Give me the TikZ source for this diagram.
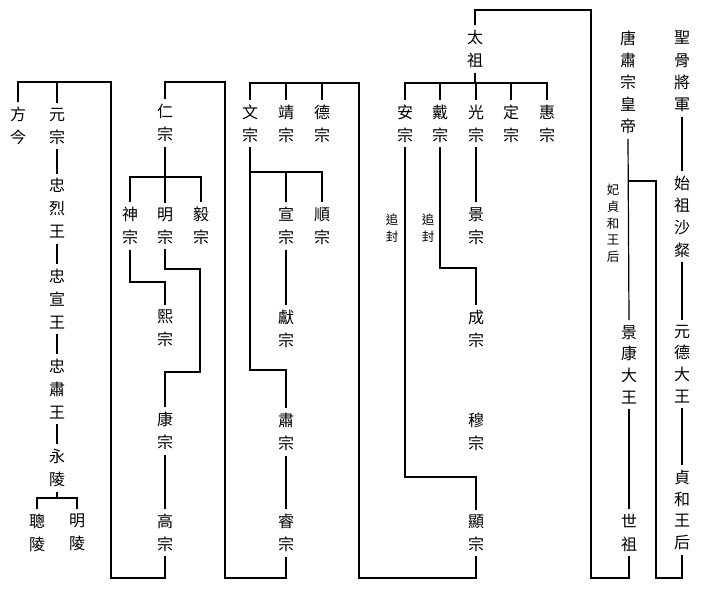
\documentclass[tikz,border=0pt]{standalone}
\usepackage{fontspec}
\newfontfamily\cjk{Noto Sans CJK TC}
\begin{document}
\begin{tikzpicture}[x=1pt,y=-1pt,
  vp/.style={font=\cjk\fontsize{16}{#1}\selectfont},
  v/.style={vp=23, align=center, inner xsep=0pt, inner ysep=5pt, outer sep=0pt, text=black},
  vs/.style={font=\cjk\fontsize{12.5}{17}\selectfont, align=center, inner sep=0pt, text=black},
  ln/.style={line width=1.2pt, black}]
\useasboundingbox[fill=white] (0,0) rectangle (706,600);

% left group
\node[v] (fj) at (18,126) {方\\今};
\node[v] (yz) at (57,126) {元\\宗};
\node[v] (zl) at (57,208.5) {忠\\烈\\王};
\node[v] (zx) at (57,299) {忠\\宣\\王};
\node[v] (zs) at (57,389) {忠\\肅\\王};
\node[v] (yl) at (57,468) {永\\陵};
\node[v] (cl) at (37,532.5) {聰\\陵};
\node[v] (ml) at (77,532.5) {明\\陵};

% 仁宗 group
\node[v] (rz) at (165,123) {仁\\宗};
\node[v] (sz) at (130,226) {神\\宗};
\node[v] (mz) at (165,226) {明\\宗};
\node[v] (yiz) at (201,226) {毅\\宗};
\node[v] (xz) at (165,328.5) {熙\\宗};
\node[v] (kz) at (165,431) {康\\宗};
\node[v] (gz) at (165,532.5) {高\\宗};

% 文宗 group
\node[v] (wz) at (250,123.5) {文\\宗};
\node[v] (jz) at (286,123.5) {靖\\宗};
\node[v] (dz) at (322,123.5) {德\\宗};
\node[v] (xuz) at (286,226) {宣\\宗};
\node[v] (sun) at (322,226) {順\\宗};
\node[v] (xian) at (286,328.5) {獻\\宗};
\node[v] (suz) at (286,432) {肅\\宗};
\node[v] (rui) at (286,533) {睿\\宗};

% 太祖 group
\node[v] (tz) at (475,49) {太\\祖};
\node[v] (az) at (405,123.5) {安\\宗};
\node[v] (daiz) at (440,123.5) {戴\\宗};
\node[v] (gzz) at (476,123.5) {光\\宗};
\node[v] (dingz) at (511,123.5) {定\\宗};
\node[v] (hz) at (547,123.5) {惠\\宗};
\node[v] (jingz) at (476,226) {景\\宗};
\node[v] (cz) at (476,328.5) {成\\宗};
\node[v] (muz) at (476,432) {穆\\宗};
\node[v] (xnz) at (476,533) {顯\\宗};
\node[vs] (zf1) at (392,228.5) {追\\封};
\node[vs] (zf2) at (428,228.5) {追\\封};

% right part
\node[v, vp=22] (tang) at (628,82.5) {唐\\肅\\宗\\皇\\帝};
\node[vs, font=\cjk\fontsize{12.5}{16.75}\selectfont] (bi) at (613,223.5) {妃\\貞\\和\\王\\后};
\node[v, vp=21.7] (jk) at (629,364.5) {景\\康\\大\\王};
\node[v] (sz2) at (629,532.5) {世\\祖};
\node[v, vp=22.3] (sg) at (682,71.5) {聖\\骨\\將\\軍};
\node[v, vp=22.3] (sj) at (682,216.5) {始\\祖\\沙\\粲};
\node[v, vp=21.7] (yd) at (682,364) {元\\德\\大\\王};
\node[v, vp=21.7] (zh) at (682,510) {貞\\和\\王\\后};

% coordinates
\coordinate (t1) at (111,82);
\coordinate (b1) at (111,578);
\coordinate (t2) at (225,82);
\coordinate (b2) at (225,578);
\coordinate (t3) at (359,83);
\coordinate (b3) at (359,578);
\coordinate (t4) at (591,10);
\coordinate (b4) at (591,578);
\coordinate (t5) at (656,181);
\coordinate (b5) at (656,578);
\coordinate (yb) at (57,498);
\coordinate (rb) at (165,177);
\coordinate (m1) at (200,269);
\coordinate (m2) at (200,372);
\coordinate (s1) at (165,282);
\coordinate (wb) at (250,172);
\coordinate (w2) at (286,370);
\coordinate (tb) at (475,83);
\coordinate (a1) at (476,477);
\coordinate (d1) at (476,268);

% left group lines
\draw[ln] (gz.south) |- (b1) -- (t1) -| (fj.north);
\draw[ln] (yz.north) -- (yz.north |- t1);
\draw[ln] (yz.south) -- (zl.north);
\draw[ln] (zl.south) -- (zx.north);
\draw[ln] (zx.south) -- (zs.north);
\draw[ln] (zs.south) -- (yl.north);
\draw[ln] (yl.south) -- (yb);
\draw[ln] (cl.north) |- (yb) -| (ml.north);

% 仁宗 group lines
\draw[ln] (rui.south) |- (b2) -- (t2) -| (rz.north);
\draw[ln] (rz.south) -- (rb);
\draw[ln] (sz.north) |- (rb) -| (yiz.north);
\draw[ln] (mz.north) -- (rb);
\draw[ln] (mz.south) |- (m1) -- (m2) -| (kz.north);
\draw[ln] (sz.south) |- (s1) -- (xz.north);
\draw[ln] (kz.south) -- (gz.north);

% 文宗 group lines
\draw[ln] (xnz.south) |- (b3) -- (t3) -| (wz.north);
\draw[ln] (jz.north) -- (jz.north |- t3);
\draw[ln] (dz.north) -- (dz.north |- t3);
\draw[ln] (wz.south) |- (w2) -- (suz.north);
\draw[ln] (wb) -| (sun.north);
\draw[ln] (xuz.north) -- (xuz.north |- wb);
\draw[ln] (xuz.south) -- (xian.north);
\draw[ln] (suz.south) -- (rui.north);

% 太祖 group lines
\draw[ln] (sz2.south) |- (b4) -- (t4) -| (tz.north);
\draw[ln] (tz.south) -- (tb);
\draw[ln] (az.north) |- (tb) -| (hz.north);
\draw[ln] (daiz.north) -- (daiz.north |- tb);
\draw[ln] (gzz.north) -- (gzz.north |- tb);
\draw[ln] (dingz.north) -- (dingz.north |- tb);
\draw[ln] (az.south) |- (a1) -- (xnz.north);
\draw[ln] (daiz.south) |- (d1) -- (cz.north);
\draw[ln] (gzz.south) -- (jingz.north);

% right part lines
\draw[ln] (tang.south) -- (jk.north);
\draw[ln] (jk.south) -- (sz2.north);
\draw[ln] (zh.south) |- (b5) -- (t5) -- (tang.south |- t5);
\draw[ln] (sg.south) -- (sj.north);
\draw[ln] (sj.south) -- (yd.north);
\draw[ln] (yd.south) -- (zh.north);
\end{tikzpicture}
\end{document}
